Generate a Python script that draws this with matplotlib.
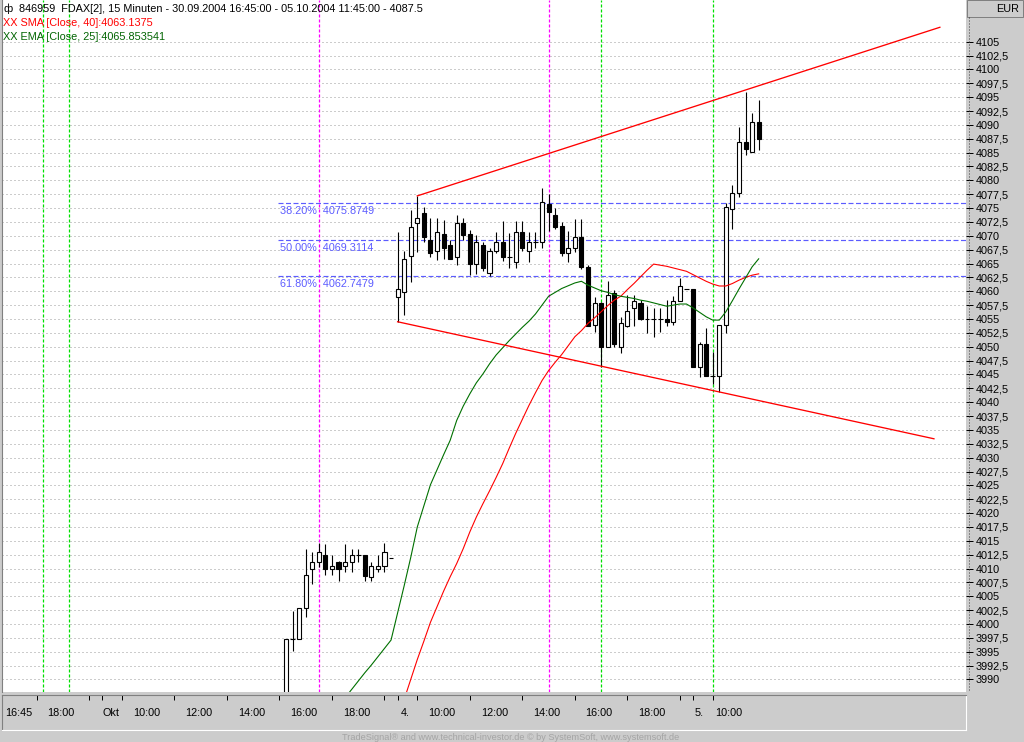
import matplotlib
matplotlib.use("Agg")
import matplotlib.pyplot as plt
import numpy as np
from matplotlib.lines import Line2D
from matplotlib.patches import Rectangle

plt.rcParams["font.family"] = ["Liberation Sans", "DejaVu Sans"]
plt.rcParams["lines.scale_dashes"] = False

# --- data (15 min FDAX bars, index 0 = first bar visible on the chart) ---
opens = [3984.0, 3997.3, 3997.3, 4002.8, 4009.9, 4011.2, 4012.4, 4009.9, 4011.1, 4010.5,
         4011.2, 4012.4, 4012.4, 4008.4, 4009.9, 4010.5, 4011.9,
         4058.9, 4059.8, 4066.4, 4072.25, 4074.2, 4069.25, 4067.25, 4070.35, 4068.35,
         4066.25, 4072.25, 4070.35, 4064.85, 4068.3, 4063.25, 4067.25, 4068.8, 4066.25,
         4065.2, 4070.75, 4067.25, 4068.8, 4068.8, 4075.7, 4073.75, 4071.75, 4066.85,
         4067.75, 4069.75, 4064.3, 4053.9, 4057.8, 4049.9, 4059.6, 4049.9, 4053.8,
         4056.9, 4057.95, 4054.95, 4054.95, 4054.95, 4054.95, 4054.4, 4058.3, 4060.35,
         4060.35, 4046.4, 4050.45, 4044.7, 4044.7, 4053.9, 4074.8, 4077.65, 4086.95,
         4085.1, 4090.45]
highs = [3997.3, 4002.4, 4002.8, 4013.5, 4013.0, 4014.6, 4014.4, 4012.4, 4011.4, 4014.4,
         4013.6, 4013.5, 4012.4, 4011.2, 4012.4, 4014.6, 4011.9,
         4070.75, 4067.2, 4074.65, 4077.2, 4075.25, 4073.15, 4073.15, 4072.85, 4069.2,
         4073.75, 4073.15, 4071.05, 4070.15, 4068.9, 4067.75, 4070.75, 4072.75, 4070.45,
         4072.75, 4072.75, 4070.75, 4070.75, 4078.55, 4077.55, 4074.95, 4072.5, 4070.9,
         4072.95, 4072.95, 4064.75, 4059.0, 4058.0, 4061.9, 4060.25, 4055.4, 4059.3,
         4059.3, 4058.45, 4057.35, 4056.9, 4056.9, 4058.45, 4059.15, 4062.35, 4060.35,
         4060.35, 4050.9, 4053.3, 4049.0, 4053.9, 4075.85, 4079.15, 4089.55, 4096.0,
         4092.1, 4094.5]
lows = [3983.0, 3995.2, 3997.3, 4001.3, 4007.3, 4010.3, 4008.8, 4008.8, 4007.8, 4009.3,
        4009.4, 4011.2, 4007.8, 4007.8, 4009.3, 4009.3, 4011.9,
        4054.5, 4055.7, 4061.7, 4067.1, 4068.8, 4066.25, 4065.65, 4065.75, 4065.75,
        4064.75, 4069.2, 4062.95, 4063.1, 4063.7, 4062.75, 4066.85, 4065.5, 4064.15,
        4064.25, 4067.3, 4065.3, 4067.75, 4067.75, 4070.9, 4071.2, 4066.3, 4065.3,
        4067.1, 4064.0, 4053.75, 4052.7, 4046.3, 4049.9, 4050.0, 4048.8, 4053.5,
        4053.8, 4054.9, 4052.4, 4051.8, 4052.7, 4053.75, 4053.9, 4058.3, 4060.35,
        4046.4, 4044.6, 4044.7, 4043.2, 4041.9, 4052.4, 4071.15, 4077.05, 4084.55,
        4085.1, 4085.45]
closes = [3997.3, 3997.3, 4002.8, 4008.8, 4011.2, 4012.9, 4009.9, 4010.5, 4009.9, 4011.2,
          4012.4, 4012.4, 4008.7, 4010.5, 4010.5, 4012.9, 4011.9,
          4060.4, 4065.8, 4071.65, 4073.15, 4069.75, 4066.85, 4070.75, 4067.75, 4065.75,
          4072.25, 4070.15, 4064.85, 4068.8, 4064.25, 4067.25, 4068.8, 4066.25, 4066.25,
          4070.75, 4067.75, 4068.8, 4068.8, 4076.15, 4074.25, 4071.65, 4066.85, 4067.75,
          4069.75, 4064.35, 4053.75, 4057.8, 4049.9, 4059.3, 4050.45, 4054.35, 4056.45,
          4058.3, 4054.95, 4054.95, 4054.95, 4054.95, 4054.4, 4058.3, 4060.95, 4060.35,
          4046.4, 4050.45, 4044.7, 4044.7, 4053.9, 4075.25, 4077.65, 4086.95, 4085.6,
          4090.45, 4087.5]

# indicators (first value belongs to bar index *_start)
sma_start = 18
sma_40 = [3986.4, 3990.0, 3993.6, 3996.9, 4000.3, 4003.1, 4005.9, 4008.5, 4010.9, 4013.6,
          4016.6, 4019.3, 4021.7, 4024.0, 4026.4, 4028.9, 4031.7, 4034.4, 4036.9, 4039.4,
          4041.7, 4043.9, 4045.7, 4047.2, 4048.6, 4050.2, 4051.8, 4052.9, 4054.2, 4055.2,
          4056.3, 4057.4, 4058.4, 4059.1, 4060.3, 4061.4, 4062.6, 4063.8, 4064.9, 4064.7,
          4064.5, 4064.2, 4063.9, 4063.6, 4063.0, 4062.4, 4061.8, 4061.3, 4060.95, 4060.95,
          4061.4, 4062.0, 4062.5, 4062.9, 4063.14]
ema_start = 9
ema_25 = [3986.7, 3988.2, 3989.7, 3991.2, 3992.6, 3994.1, 3995.6, 3997.1, 4002.0, 4006.9,
          4012.0, 4017.5, 4021.3, 4025.1, 4027.8, 4030.5, 4033.1, 4036.7, 4039.3, 4041.5,
          4043.5, 4045.1, 4046.9, 4048.5, 4049.8, 4051.1, 4052.3, 4053.5, 4054.6, 4055.9,
          4057.5, 4059.1, 4059.8, 4060.5, 4061.0, 4061.5, 4061.8, 4061.1, 4060.6, 4060.1,
          4059.8, 4059.4, 4059.1, 4058.9, 4058.7, 4058.4, 4058.2, 4057.9, 4057.6, 4057.3,
          4057.5, 4057.7, 4057.7, 4057.0, 4056.2, 4055.4, 4054.8, 4054.8, 4056.3, 4058.3,
          4060.4, 4062.4, 4064.4, 4065.85]

# trend channel (bar index, price)
upper_x = [20, 99.6]
upper_y = [4077.2, 4107.6]
lower_x = [17, 98.7]
lower_y = [4054.5, 4033.4]

# fibonacci retracement levels
fib_labels = ["38.20%", "50.00%", "61.80%"]
fib_values = [4075.8749, 4069.3114, 4062.7479]

# vertical marker lines (bar index)
green_marks = [-37, -33, 48, 65]
magenta_marks = [5, 40]

# time axis
tick_bars = [-38, -30, -28, -25, -17, -9, -1, 7, 15, 17, 20, 28, 36, 44, 52, 60, 62, 65]
time_labels = ["16:45", "18:00", "Okt", "10:00", "12:00", "14:00", "16:00", "18:00", "4.",
               "10:00", "12:00", "14:00", "16:00", "18:00", "5.", "10:00"]
time_label_bars = [-40.7, -34.3, -26.7, -21.2, -13.25, -5.2, 2.75, 10.8, 18.1,
                   23.7, 31.8, 39.7, 47.7, 55.7, 62.95, 67.5]

price_ticks = np.arange(3990, 4105.1, 2.5)

# --- figure layout (pixel based, 1024 x 742) ---
W, H = 1024, 742
PANEL = "#cccccc"
XLIM = (-43.26, 103.58)


def fx(x):
    return x / W


def fy(y):
    return 1 - y / H


fig = plt.figure(figsize=(W / 100, H / 100), dpi=100, facecolor=PANEL)

ax = fig.add_axes([fx(2), fy(692), (966 - 2) / W, 692 / H])
ax.set_facecolor("white")
ax.set_xlim(*XLIM)
ax.set_ylim(3987.74, 4112.52)

for s in ["top", "right", "bottom"]:
    ax.spines[s].set_visible(False)
ax.spines["left"].set_color("#808080")

ax.set_xticks([])
ax.yaxis.tick_right()
ax.set_yticks(price_ticks)
ax.set_yticklabels([f"{v:g}".replace(".", ",") for v in price_ticks])
ax.tick_params(axis="y", direction="out", length=5, width=0.72, pad=1.8,
               labelsize=7.8, colors="black")
ax.grid(axis="y", color="#9a9a9a", linewidth=0.72, linestyle=(0, (0.72, 2.16)))
ax.set_axisbelow(True)

# vertical marker lines
for b in green_marks:
    ax.axvline(b, color="#00e000", linewidth=0.9, linestyle=(0, (2.2, 1.4)), zorder=1)
for b in magenta_marks:
    ax.axvline(b, color="#ff00ff", linewidth=0.9, linestyle=(0, (2.2, 1.4)), zorder=1)

# fibonacci levels
for lab, val in zip(fib_labels, fib_values):
    ax.plot([-1.2, XLIM[1]], [val, val], color="#5c5cff", linewidth=0.85,
            linestyle=(0, (3.6, 1.8)), zorder=1)
    ax.text(-0.9, val - 0.55, f"{lab}  {val:.4f}", color="#5c5cff", fontsize=7.8,
            ha="left", va="top", zorder=2)

# candles
idx = np.arange(len(closes))
o = np.array(opens)
c = np.array(closes)
ax.vlines(idx, lows, highs, color="black", linewidth=0.8, zorder=3)
body = np.abs(c - o) >= 0.1
up = body & (c > o)
down = body & (c < o)
ax.bar(idx[up], (c - o)[up], bottom=o[up], width=0.62, color="white",
       edgecolor="black", linewidth=0.8, zorder=4)
ax.bar(idx[down], (o - c)[down], bottom=c[down], width=0.62, color="black",
       edgecolor="black", linewidth=0.8, zorder=4)
doji = ~body
ax.hlines(c[doji], idx[doji] - 0.36, idx[doji] + 0.36, color="black", linewidth=0.8, zorder=4)

# indicators
ax.plot(np.arange(sma_start, sma_start + len(sma_40)), sma_40, color="#ff0000",
        linewidth=0.8, zorder=5)
ax.plot(np.arange(ema_start, ema_start + len(ema_25)), ema_25, color="#007000",
        linewidth=0.8, zorder=5)

# trend channel
ax.plot(upper_x, upper_y, color="#ff0000", linewidth=0.95, zorder=6)
ax.plot(lower_x, lower_y, color="#ff0000", linewidth=0.95, zorder=6)

# header texts
fig.text(fx(3), fy(9), "ф", fontsize=8, ha="left", va="center", color="black")
fig.text(fx(19), fy(9),
         "846959  FDAX[2], 15 Minuten - 30.09.2004 16:45:00 - 05.10.2004 11:45:00 - 4087.5",
         fontsize=7.8, ha="left", va="center", color="black")
fig.text(fx(3), fy(23), "XX SMA [Close, 40]:4063.1375", fontsize=7.8, ha="left",
         va="center", color="#ff0000")
fig.text(fx(3), fy(37), "XX EMA [Close, 25]:4065.853541", fontsize=7.8, ha="left",
         va="center", color="#006400")

# right price panel border + EUR header
fig.add_artist(Line2D([fx(969), fx(969)], [fy(17), fy(692)], color="#404040",
                      linewidth=0.72, linestyle=(0, (0.72, 1.44))))
fig.add_artist(Rectangle((fx(967), fy(17)), 56 / W, 17 / H, facecolor=PANEL,
                         edgecolor="#808080", linewidth=0.72))
fig.text(fx(1019), fy(8.5), "EUR", fontsize=7.8, ha="right", va="center")

# time axis panel (own axes with the same bar scale)
axt = fig.add_axes([fx(2), fy(730), (966 - 2) / W, 35 / H])
axt.set_facecolor(PANEL)
axt.set_xlim(*XLIM)
axt.set_yticks([])
axt.set_xticks(tick_bars)
axt.tick_params(axis="x", top=True, bottom=False, direction="in", length=3.6,
                width=0.72, labeltop=False, labelbottom=False)
axt.spines["top"].set_color("#808080")
axt.spines["left"].set_color("#808080")
axt.spines["bottom"].set_color("white")
axt.spines["right"].set_color("white")
for lab, pos in zip(time_labels, time_label_bars):
    axt.text(pos, 0.5, lab, transform=axt.get_xaxis_transform(), fontsize=7.8,
             ha="center", va="center")

fig.text(fx(511), fy(737),
         "TradeSignal® and www.technical-investor.de © by SystemSoft, www.systemsoft.de",
         fontsize=6.6, color="#a4a4a4", ha="center", va="center")

fig.savefig("out.png", dpi=100, facecolor=PANEL)
